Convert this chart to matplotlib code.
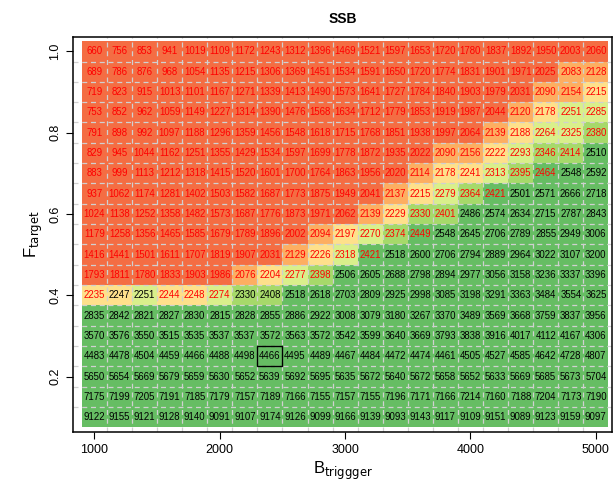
import numpy as np
import matplotlib.pyplot as plt
from matplotlib.colors import ListedColormap, BoundaryNorm
from matplotlib.patches import Rectangle

plt.rcParams['font.family'] = ['Liberation Sans', 'DejaVu Sans']

# eixo x: Btrigger, eixo y: Ftarget (de cima para baixo)
btrigger = [1000, 1200, 1400, 1600, 1800, 2000, 2200, 2400, 2600, 2800, 3000,
            3200, 3400, 3600, 3800, 4000, 4200, 4400, 4600, 4800, 5000]
ftarget = [1.0, 0.95, 0.9, 0.85, 0.8, 0.75, 0.7, 0.65, 0.6, 0.55,
           0.5, 0.45, 0.4, 0.35, 0.3, 0.25, 0.2, 0.15, 0.1]

ssb = [
    [660, 756, 853, 941, 1019, 1109, 1172, 1243, 1312, 1396, 1469, 1521, 1597, 1653, 1720, 1780, 1837, 1892, 1950, 2003, 2060],
    [689, 786, 876, 968, 1054, 1135, 1215, 1306, 1369, 1451, 1534, 1591, 1650, 1720, 1774, 1831, 1901, 1971, 2025, 2083, 2128],
    [719, 823, 915, 1013, 1101, 1167, 1271, 1339, 1413, 1490, 1573, 1641, 1727, 1784, 1840, 1903, 1979, 2031, 2090, 2154, 2215],
    [753, 852, 962, 1059, 1149, 1227, 1314, 1390, 1476, 1568, 1634, 1712, 1779, 1853, 1919, 1987, 2044, 2120, 2178, 2251, 2285],
    [791, 898, 992, 1097, 1188, 1296, 1359, 1456, 1548, 1618, 1715, 1768, 1851, 1938, 1997, 2064, 2139, 2188, 2264, 2325, 2380],
    [829, 945, 1044, 1162, 1251, 1355, 1429, 1534, 1597, 1699, 1778, 1872, 1935, 2022, 2090, 2156, 2222, 2293, 2346, 2414, 2510],
    [883, 999, 1113, 1212, 1318, 1415, 1520, 1601, 1700, 1764, 1863, 1956, 2020, 2114, 2178, 2241, 2313, 2395, 2464, 2548, 2592],
    [937, 1062, 1174, 1281, 1402, 1503, 1582, 1687, 1773, 1875, 1949, 2041, 2137, 2215, 2279, 2364, 2421, 2501, 2571, 2666, 2718],
    [1024, 1138, 1252, 1358, 1482, 1573, 1687, 1776, 1873, 1971, 2062, 2139, 2229, 2330, 2401, 2486, 2574, 2634, 2715, 2787, 2843],
    [1179, 1258, 1356, 1465, 1585, 1679, 1789, 1896, 2002, 2094, 2197, 2270, 2374, 2449, 2548, 2645, 2706, 2789, 2855, 2949, 3006],
    [1416, 1441, 1501, 1611, 1707, 1819, 1907, 2031, 2129, 2226, 2318, 2421, 2518, 2600, 2706, 2794, 2889, 2964, 3022, 3107, 3200],
    [1793, 1811, 1780, 1833, 1903, 1986, 2076, 2204, 2277, 2398, 2506, 2605, 2688, 2798, 2894, 2977, 3056, 3158, 3236, 3337, 3396],
    [2235, 2247, 2251, 2244, 2248, 2274, 2330, 2408, 2518, 2618, 2703, 2809, 2925, 2998, 3085, 3198, 3291, 3363, 3484, 3554, 3625],
    [2835, 2842, 2821, 2827, 2830, 2815, 2828, 2855, 2886, 2922, 3008, 3079, 3180, 3267, 3370, 3489, 3569, 3668, 3759, 3837, 3956],
    [3570, 3576, 3550, 3515, 3535, 3537, 3537, 3572, 3563, 3572, 3542, 3599, 3640, 3669, 3793, 3838, 3916, 4017, 4112, 4167, 4306],
    [4483, 4478, 4504, 4459, 4466, 4488, 4498, 4466, 4495, 4489, 4467, 4484, 4472, 4474, 4461, 4505, 4527, 4585, 4642, 4728, 4807],
    [5650, 5654, 5669, 5679, 5659, 5630, 5652, 5639, 5692, 5695, 5635, 5672, 5640, 5672, 5658, 5652, 5633, 5669, 5685, 5673, 5704],
    [7175, 7199, 7205, 7191, 7185, 7179, 7157, 7189, 7166, 7155, 7157, 7155, 7196, 7171, 7166, 7214, 7160, 7188, 7204, 7173, 7190],
    [9122, 9155, 9121, 9128, 9140, 9091, 9107, 9174, 9126, 9099, 9166, 9139, 9093, 9143, 9117, 9109, 9151, 9089, 9123, 9159, 9097],
]

# 1 = número em vermelho, 0 = preto
texto_vermelho = [
    "111111111111111111111",
    "111111111111111111111",
    "111111111111111111111",
    "111111111111111111111",
    "111111111111111111111",
    "111111111111111111110",
    "111111111111111111100",
    "111111111111111110000",
    "111111111111111000000",
    "111111111111110000000",
    "111111111111000000000",
    "111111111100000000000",
    "100111000000000000000",
    "000000000000000000000",
    "000000000000000000000",
    "000000000000000000000",
    "000000000000000000000",
    "000000000000000000000",
    "000000000000000000000",
]

limites = [0, 2070, 2160, 2250, 2328, 2420, 20000]
cores = ['#F46D43', '#FDAE61', '#FEE08B', '#D9EF8B', '#A6D96A', '#66BD63']
destaque = (2400, 0.25)  # célula com contorno

Z = np.array(ssb)
bx = np.array(btrigger)
fy = np.array(ftarget)
xb = np.append(bx - 100, bx[-1] + 100)
yb = np.append(fy + 0.025, fy[-1] - 0.025)

fig = plt.figure(figsize=(6.14, 4.82), dpi=100)
ax = fig.add_axes([0.119, 0.104, 0.878, 0.819])

cmap = ListedColormap(cores)
norm = BoundaryNorm(limites, cmap.N)
ax.pcolormesh(xb, yb, Z, cmap=cmap, norm=norm, shading='flat', zorder=1)

# grade tracejada nos limites das células
for x in xb[1:-1]:
    ax.axvline(x, color='#d0d0d0', lw=0.9, ls=(0, (4, 3)), zorder=2)
for y in yb[1:-1]:
    ax.axhline(y, color='#d0d0d0', lw=0.9, ls=(0, (4, 3)), zorder=2)

for i, f in enumerate(ftarget):
    for j, b in enumerate(btrigger):
        cor = '#ff0000' if texto_vermelho[i][j] == '1' else 'black'
        ax.text(b, f, str(ssb[i][j]), ha='center', va='center',
                fontsize=6.9, color=cor, zorder=3)

ax.add_patch(Rectangle((destaque[0] - 100, destaque[1] - 0.025), 200, 0.05,
                       fill=False, ec='black', lw=1.0, zorder=4))

ax.set_xlim(830, 5130)
ax.set_ylim(0.064, 1.035)
ax.set_xticks([1000, 2000, 3000, 4000, 5000])
ax.set_yticks([0.2, 0.4, 0.6, 0.8, 1.0])
ax.set_yticklabels(['0.2', '0.4', '0.6', '0.8', '1.0'], rotation=90, va='center')
ax.tick_params(labelsize=9, length=5)
for s in ax.spines.values():
    s.set_linewidth(1.1)
ax.set_xlabel(r'B$_{\mathrm{triggger}}$', fontsize=12, labelpad=3)
ax.set_ylabel(r'F$_{\mathrm{target}}$', fontsize=12, labelpad=3)
ax.set_title('SSB', fontsize=10, fontweight='bold', pad=10)

fig.savefig('out.png', dpi=100)
